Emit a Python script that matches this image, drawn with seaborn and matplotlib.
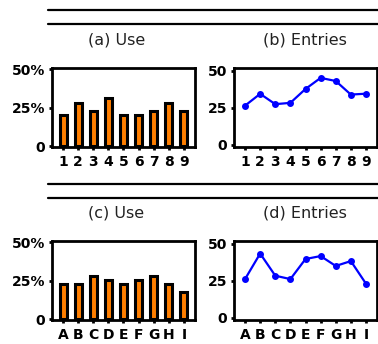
import numpy as np
import pandas as pd
import matplotlib
matplotlib.use("Agg")
import matplotlib.pyplot as plt
from matplotlib.lines import Line2D
import seaborn as sns

# ---- data ----
cats_num = ["1", "2", "3", "4", "5", "6", "7", "8", "9"]
use_num = [20.5, 28, 23, 31, 20.5, 20.5, 23, 28, 23]
entries_num = [26.5, 34.5, 27.5, 28.4, 37.8, 45.3, 43.2, 34, 34.6]

cats_alpha = ["A", "B", "C", "D", "E", "F", "G", "H", "I"]
use_alpha = [22.5, 22.5, 28, 25.3, 22.5, 25.3, 28, 22.5, 17.5]
entries_alpha = [26.2, 43.5, 28.5, 26.2, 39.8, 41.8, 35.1, 38.4, 23.1]

use_ticks = [0, 25, 50]
use_ticklabels = ["0", "25%", "50%"]
entries_ticks = [0, 25, 50]
entries_ticklabels = ["0", "25", "50"]

titles = ["(a) Use", "(b) Entries", "(c) Use", "(d) Entries"]

sns.set_theme(style="white")
plt.rcParams['font.family'] = ['DejaVu Sans']

W, H = 378, 344
fig = plt.figure(figsize=(W / 100, H / 100), dpi=100)


def px_axes(l, t, r, b):
    return fig.add_axes([l / W, 1 - b / H, (r - l) / W, (b - t) / H])


def style(ax, ticks, ticklabels, ylim):
    ax.set_xlim(-0.73, 8.73)
    ax.set_ylim(*ylim)
    ax.set_yticks(ticks)
    ax.set_yticklabels(ticklabels)
    ax.set_xlabel("")
    ax.set_ylabel("")
    for s in ax.spines.values():
        s.set_visible(True)
        s.set_linewidth(2.0)
        s.set_color("black")
    ax.tick_params(axis="both", direction="out", length=2.5, width=2.0,
                   color="black", labelsize=10, pad=2.5,
                   bottom=True, left=True)
    ax.tick_params(axis="x", pad=3.5)
    for lab in ax.get_xticklabels() + ax.get_yticklabels():
        lab.set_fontweight("bold")
        lab.set_color("black")


def bar_panel(ax, cats, vals):
    df = pd.DataFrame({"c": cats, "v": vals})
    sns.barplot(data=df, x="c", y="v", ax=ax, color="#FF7F00",
                saturation=1, width=0.46, edgecolor="black", linewidth=2.2)
    style(ax, use_ticks, use_ticklabels, (-0.6, 50.8))


def line_panel(ax, cats, vals):
    df = pd.DataFrame({"c": cats, "v": vals})
    sns.pointplot(data=df, x="c", y="v", ax=ax, color="#0000FF",
                  markers="o", markersize=3.8, linewidth=1.6)
    style(ax, entries_ticks, entries_ticklabels, (-1.5, 52))


rows = [
    (68, 147, 9.5, 24, 40, cats_num, use_num, entries_num, titles[0], titles[1]),
    (241, 320, 183.7, 198, 213.5, cats_alpha, use_alpha, entries_alpha, titles[2], titles[3]),
]

for top, bot, r1, r2, ty, cats, uv, ev, t1, t2 in rows:
    ax1 = px_axes(52, top, 195, bot)
    bar_panel(ax1, cats, uv)
    ax2 = px_axes(234, top, 377, bot)
    line_panel(ax2, cats, ev)
    for ry in (r1, r2):
        fig.add_artist(Line2D([48 / W, 1.0], [1 - ry / H, 1 - ry / H],
                              color="black", linewidth=1.6,
                              transform=fig.transFigure))
    fig.text(116.5 / W, 1 - ty / H, t1, ha="center", va="center",
             fontsize=11.5, color="#222222")
    fig.text(305 / W, 1 - ty / H, t2, ha="center", va="center",
             fontsize=11.5, color="#222222")

fig.savefig("out.png", dpi=100, facecolor="white")
